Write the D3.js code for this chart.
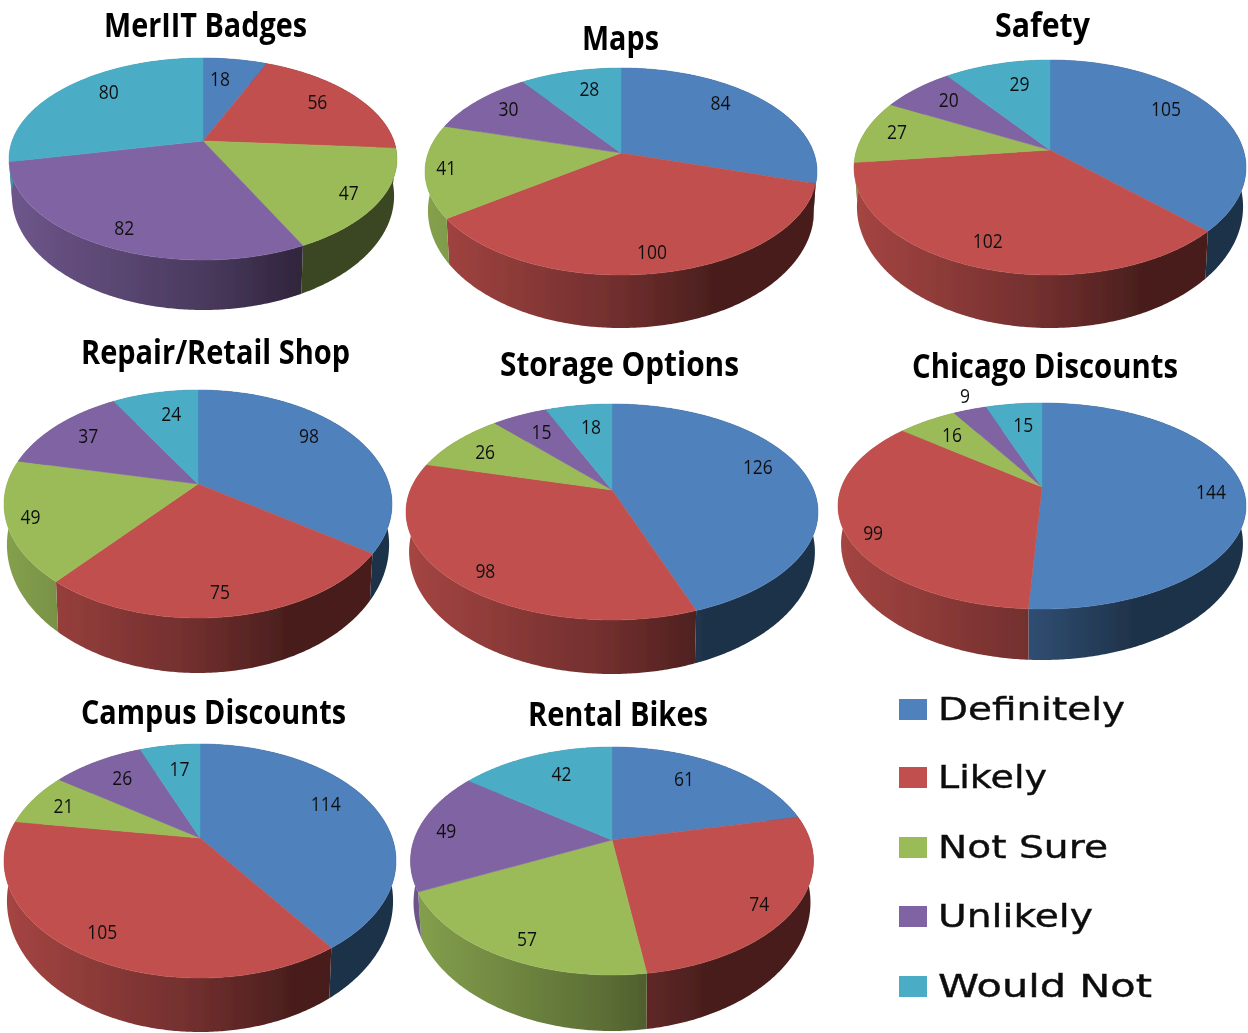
<!DOCTYPE html>
<html>
<head>
<meta charset="utf-8">
<script src="https://cdn.jsdelivr.net/npm/d3@7"></script>
<style>
html, body { margin: 0; padding: 0; background: white; }
svg { display: block; }
</style>
</head>
<body>
<div id="chart"></div>
<script>
// Data
const answers = ["Definitely", "Likely", "Not Sure", "Unlikely", "Would Not"];
const titles = ["MerIIT Badges", "Maps", "Safety", "Repair/Retail Shop", "Storage Options", "Chicago Discounts", "Campus Discounts", "Rental Bikes"];
const merit = [18, 56, 47, 82, 80];
const maps = [84, 100, 41, 30, 28];
const safety = [105, 102, 27, 20, 29];
const repair = [98, 75, 49, 37, 24];
const storage = [126, 98, 26, 15, 18];
const chicago = [144, 99, 16, 9, 15];
const campus = [114, 105, 21, 26, 17];
const rental = [61, 74, 57, 49, 42];
const seriesValues = [merit, maps, safety, repair, storage, chicago, campus, rental];

// Layout: apex x/y, then left, right, top, bottom of the top ellipse, then bottom of the wall
const pieBoxes = [
    [203, 141, 9, 397, 58, 260, 310],
    [621, 153, 426, 818, 68, 275, 328],
    [1050, 150, 854, 1246, 60, 275, 328],
    [198, 484, 3, 391, 390, 618, 673],
    [612, 490, 406, 818, 404, 620, 674],
    [1042, 487, 837, 1245, 403, 609, 660],
    [200, 838, 4, 396, 744, 978, 1032],
    [612, 840, 410, 813, 747, 975, 1031]
];
// Title: left, right, baseline
const titleBoxes = [
    [104, 307, 37], [582, 659, 50], [995, 1090, 37],
    [81, 350, 364], [500, 739, 376], [912, 1178, 378],
    [81, 346, 724], [528, 708, 726]
];
// Hand nudges for the value labels, Excel's best fit does not follow one radius
const labelNudges = [
    [[-9, 4], [-4, -2], [12, 6], [-4, 9], [12, -5]],
    [[-12, -7], [2, 10], [-23, 1], [1, -2], [9, 2]],
    [[-16, -10], [-8, 3], [-8, -3], [5, -1], [12, 3]],
    [[-13, -10], [-1, 9], [-20, 4], [2, -1], [8, 3]],
    [[-5, -10], [-6, 14], [-3, 1], [4, 2], [6, 5]],
    [[12, 3], [-17, 13], [2, 1], [-19, -29], [4, 5]],
    [[-11, -9], [-7, 8], [-5, -1], [5, 2], [4, 6]],
    [[-15, -1], [9, 11], [-2, 12], [-14, -1], [11, 2]]
];
const colors = ["#4f81bd", "#c0504d", "#9bbb59", "#8064a2", "#4bacc6"];
const legendWidths = [187, 109, 170, 155, 214];
const legendBase = [720, 788, 858, 927, 997];

const width = 1248, height = 1033;
const svg = d3.select("#chart")
    .append("svg")
    .attr("width", width)
    .attr("height", height)
    .attr("viewBox", "0 0 "+width+" "+height);
const defs = svg.append("defs");
// The picture is a bit soft all over
defs.append("filter")
    .attr("id", "soft")
    .append("feGaussianBlur")
    .attr("stdDeviation", 0.4);
const root = svg.append("g").attr("filter", "url(#soft)");
root.append("rect").attr("width", width).attr("height", height).attr("fill", "white");
const pie = d3.pie().sort(null);
const lineGen = d3.line().x((d) => d[0]).y((d) => d[1]);

// Shade of the wall goes from light at the left to dark right of the middle
const shade = (color, f) => {
    const c = d3.rgb(color);
    return d3.rgb(c.r*f, c.g*f, c.b*f).formatHex();
};

seriesValues.forEach((values, i) => {
    const [ax, ay, left, right, top, bottom, wallBottom] = pieBoxes[i];
    const up = ay - top, down = bottom - ay;
    const k = (down - up) / (down + up);
    const ryp = up * (1 + k);
    const rxp = (right - left) / 2 * Math.sqrt(1 - k*k);
    const ecy = (top + bottom) / 2, ery = (bottom - top) / 2;
    const wall = wallBottom - bottom;

    // Circle point seen in perspective, so the apex sits above the ellipse middle
    const rim = (a, f = 1) => {
        const u = Math.sin(a), v = Math.cos(a), w = 1 + k*v*f;
        return [ax + rxp*u*f/w, ay - ryp*v*f/w];
    };
    const rimBelow = (p) => {
        const t = (p[1] - ecy) / ery;
        return [ax + (p[0] - ax)*0.985, p[1] + wall*0.74 + wall*0.26*t];
    };
    const arcPoints = (d) => {
        const n = Math.ceil((d.endAngle - d.startAngle) / 0.01);
        return d3.range(n + 1).map((j) => rim(d.startAngle + (d.endAngle - d.startAngle)*j/n));
    };

    const g = root.append("g");
    const arcs = pie(values);

    colors.forEach((c, j) => {
        const grad = defs.append("linearGradient")
            .attr("id", "wall"+i+"_"+j)
            .attr("gradientUnits", "userSpaceOnUse")
            .attr("x1", left).attr("x2", right)
            .attr("y1", 0).attr("y2", 0);
        [[0, 0.86], [0.5, 0.58], [0.74, 0.38], [1, 0.38]].forEach((s) => {
            grad.append("stop").attr("offset", s[0]).attr("stop-color", shade(c, s[1]));
        });
    });

    g.selectAll("path.wall")
        .data(arcs)
        .enter()
        .append("path")
        .attr("class", "wall")
        .attr("fill", (d) => "url(#wall"+i+"_"+d.index+")")
        .attr("d", (d) => {
            const pts = arcPoints(d);
            return lineGen(pts.concat(pts.map(rimBelow).reverse())) + "Z";
        });

    g.selectAll("path.face")
        .data(arcs)
        .enter()
        .append("path")
        .attr("class", "face")
        .attr("fill", (d) => colors[d.index])
        .attr("stroke", (d) => colors[d.index])
        .attr("stroke-width", 0.5)
        .attr("d", (d) => lineGen([[ax, ay]].concat(arcPoints(d))) + "Z");

    g.selectAll("text")
        .data(arcs)
        .enter()
        .append("text")
        .attr("text-anchor", "middle")
        .style("font-family", "'Open Sans'")
        .style("font-size", "20px")
        .style("fill", "#111")
        .attr("textLength", (d) => String(d.value).length*10)
        .attr("lengthAdjust", "spacingAndGlyphs")
        .attr("x", (d) => rim((d.startAngle + d.endAngle)/2, 0.78)[0] + labelNudges[i][d.index][0])
        .attr("y", (d) => rim((d.startAngle + d.endAngle)/2, 0.78)[1] + 7 + labelNudges[i][d.index][1])
        .text((d) => d.value);

    root.append("text")
        .attr("x", (titleBoxes[i][0] + titleBoxes[i][1])/2)
        .attr("y", titleBoxes[i][2])
        .attr("text-anchor", "middle")
        .attr("textLength", titleBoxes[i][1] - titleBoxes[i][0])
        .attr("lengthAdjust", "spacingAndGlyphs")
        .style("font-family", "'Open Sans'")
        .style("font-weight", "bold")
        .style("font-size", "34px")
        .style("fill", "#000")
        .text(titles[i]);
});

// Legend
const legend = root.append("g");
legend.selectAll("rect")
    .data(answers)
    .enter()
    .append("rect")
    .attr("x", 899)
    .attr("y", (d, i) => legendBase[i] - 21)
    .attr("width", 28)
    .attr("height", 21)
    .attr("fill", (d, i) => colors[i]);
legend.selectAll("text")
    .data(answers)
    .enter()
    .append("text")
    .attr("x", 938)
    .attr("y", (d, i) => legendBase[i])
    .attr("textLength", (d, i) => legendWidths[i])
    .attr("lengthAdjust", "spacingAndGlyphs")
    .style("font-family", "'DejaVu Sans'")
    .style("font-size", "32px")
    .style("fill", "#111")
    .style("stroke", "#111")
    .style("stroke-width", 0.4)
    .text((d) => d);
</script>
</body>
</html>
